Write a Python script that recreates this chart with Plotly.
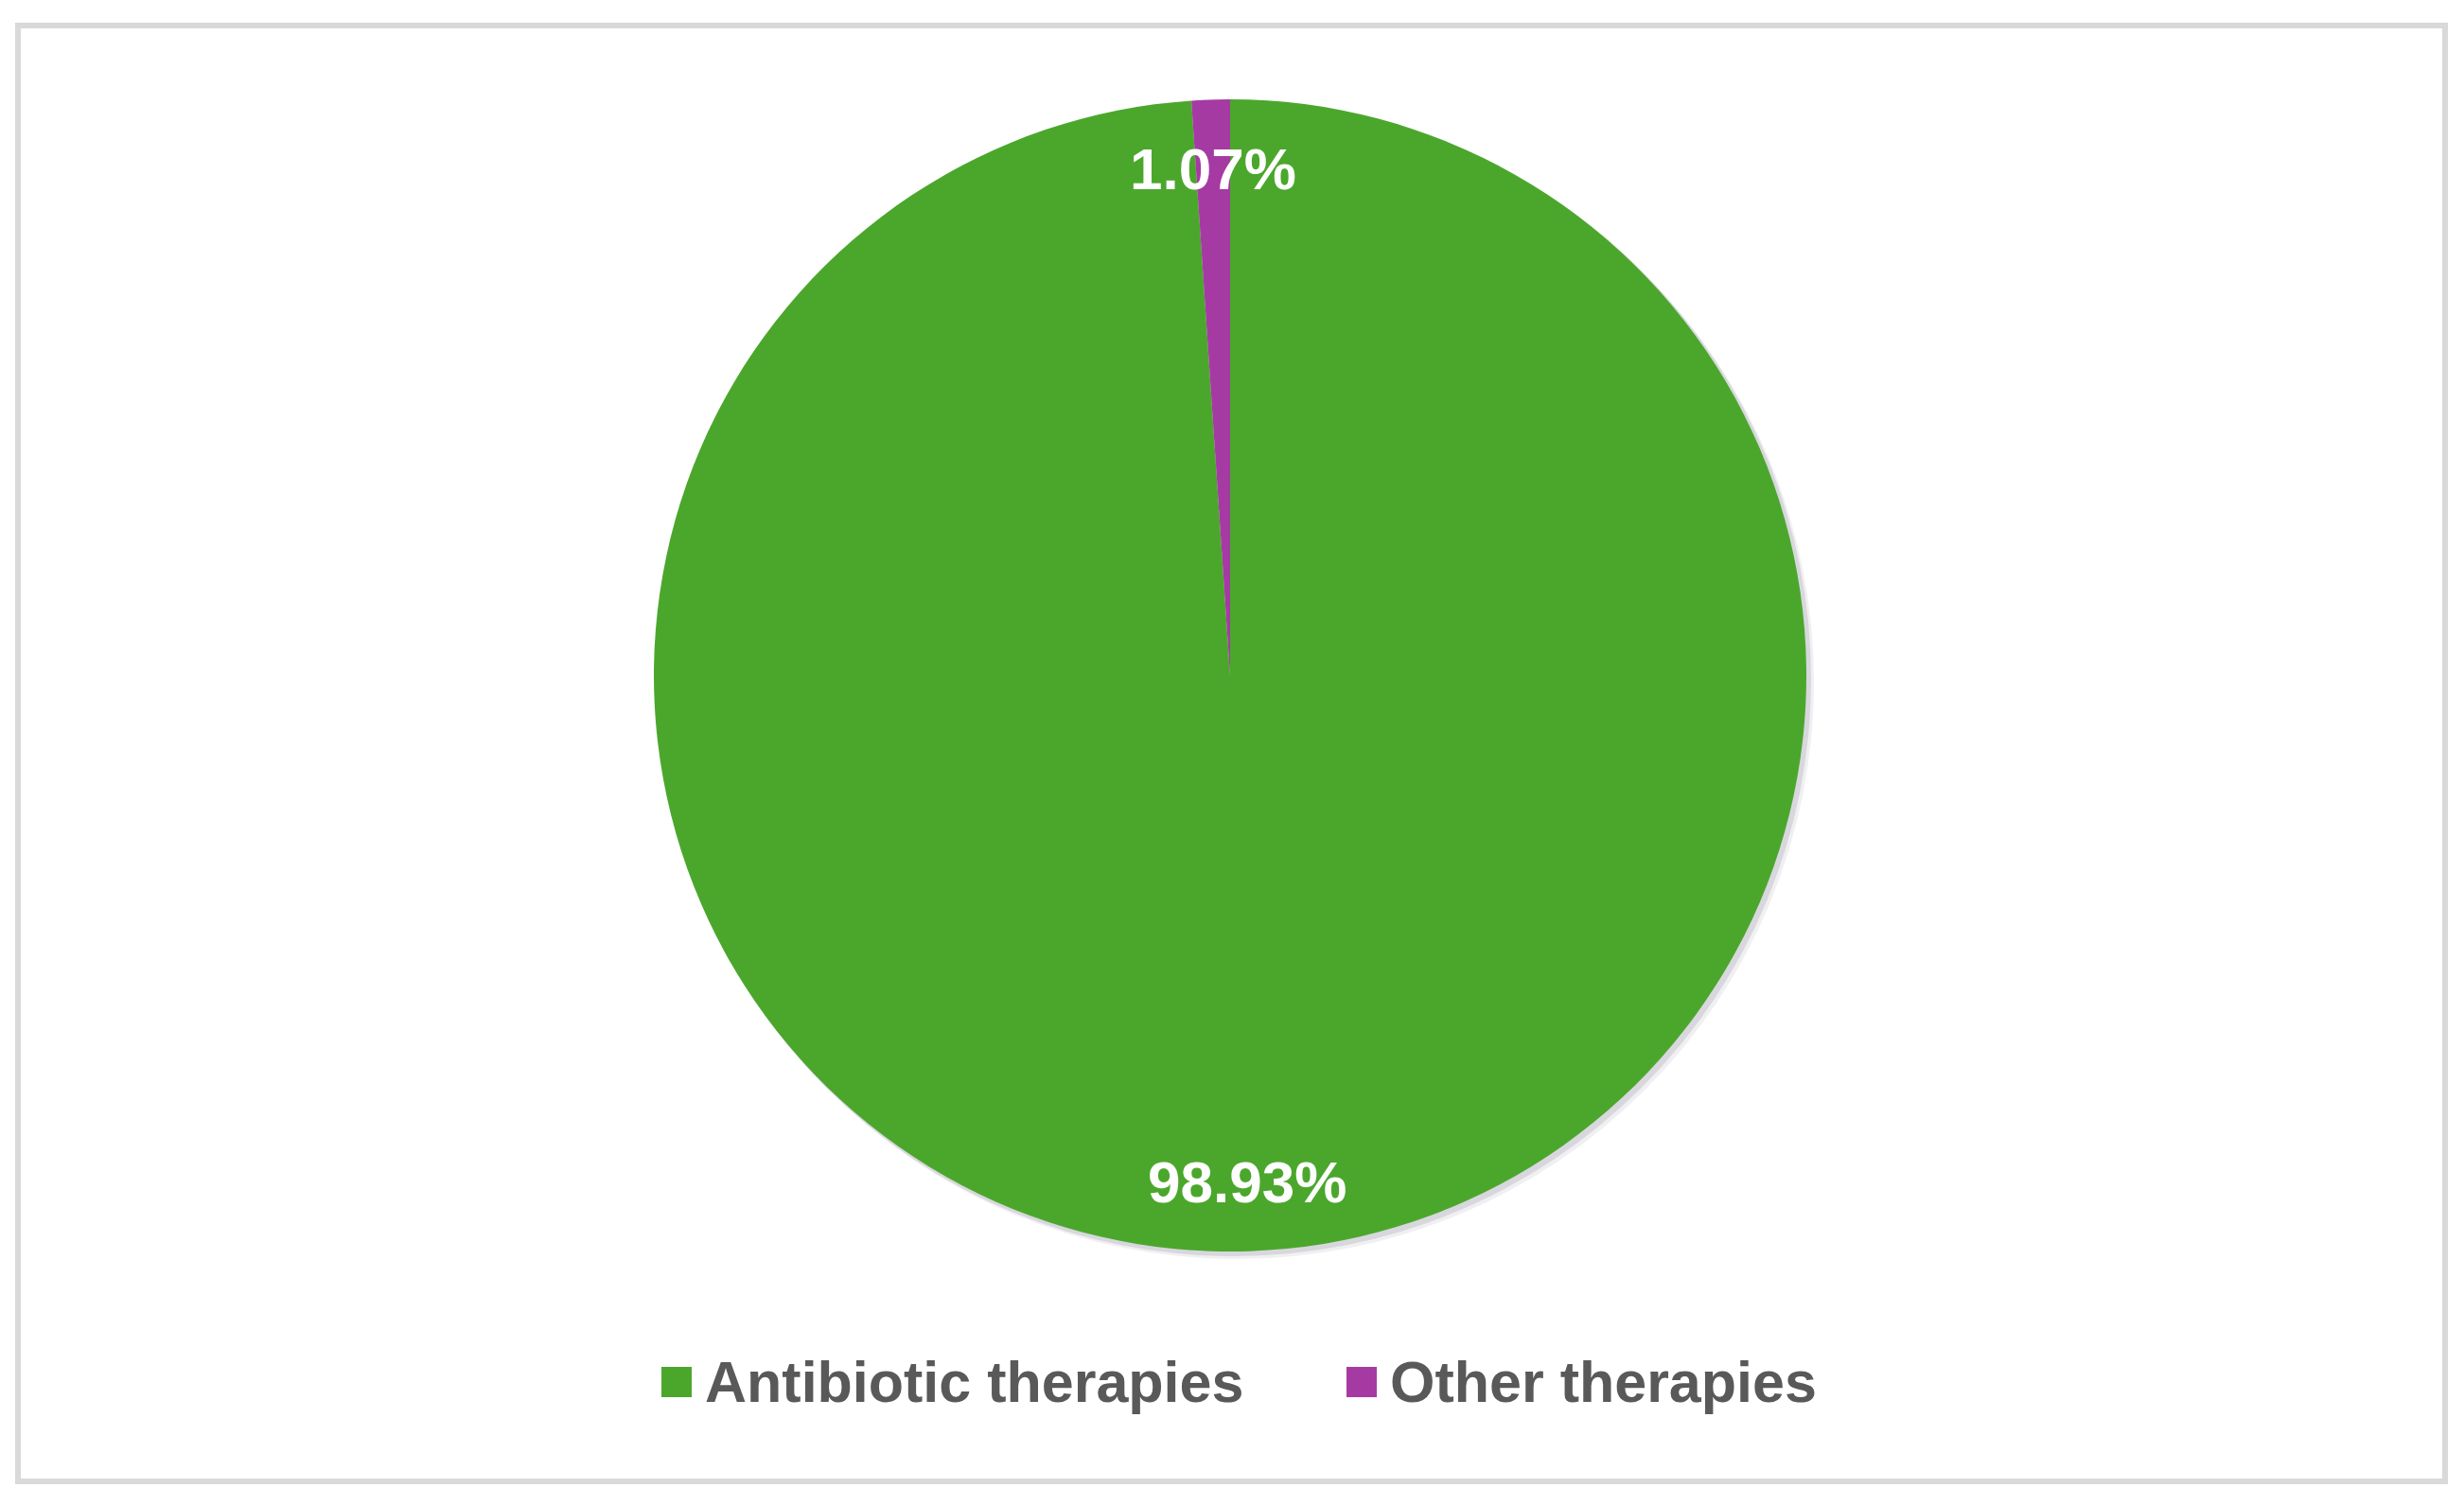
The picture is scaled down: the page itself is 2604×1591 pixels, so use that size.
import plotly.graph_objects as go
import math

# ---- data ----
categories = ["Antibiotic therapies", "Other therapies"]
values = [98.93, 1.07]
value_labels = ["98.93%", "1.07%"]
colors = ["#4ba72c", "#a63aa3"]

# the page body has an 8px margin; work in page pixels and convert
OFF = 8
W, H = 2604 - 2 * OFF, 1591 - 2 * OFF
cx, cy, R = 1300 - OFF, 714 - OFF, 609  # pie centre / radius in figure pixels


def px2x(p):
    return (p - OFF) / W if False else p / W


def py2y(p):
    return 1 - p / H


dom_x = [(cx - R) / W, (cx + R) / W]
dom_y = [1 - (cy + R) / H, 1 - (cy - R) / H]

fig = go.Figure()

# soft shadow behind the pie
for sh, a in [(7, 0.10), (4, 0.18)]:
    fig.add_trace(go.Pie(
        values=[1], labels=["shadow"], marker=dict(colors=[f"rgba(110,105,130,{a})"], line=dict(width=0)),
        domain=dict(x=[(cx - R + sh - 1) / W, (cx + R + sh + 1) / W],
                    y=[1 - (cy + R + sh + 1) / H, 1 - (cy - R + sh - 1) / H]),
        textinfo="none", hoverinfo="skip", showlegend=False, sort=False,
    ))

fig.add_trace(go.Pie(
    labels=categories, values=values, sort=False, direction="clockwise", rotation=0,
    marker=dict(colors=colors, line=dict(width=0)),
    domain=dict(x=dom_x, y=dom_y),
    textinfo="none", hoverinfo="label+percent", showlegend=False,
))

# data labels at 0.88 R along each slice's mid angle
total = sum(values)
cum = 0.0
annotations = []
for v, lab in zip(values, value_labels):
    mid = (cum + v / 2) / total * 2 * math.pi
    cum += v
    px = cx + 0.88 * R * math.sin(mid)
    py = cy - 0.88 * R * math.cos(mid)
    annotations.append(dict(
        x=px / W, y=1 - py / H, xref="paper", yref="paper", text=lab, showarrow=False,
        font=dict(family="Liberation Sans", size=62, color="white", weight="bold"),
        xanchor="center", yanchor="middle",
    ))

# manual legend
legend_y = 1461 - OFF
sq = 32
legend_x = [699 - OFF, 1423 - OFF]
shapes = []
for xs, cat, col in zip(legend_x, categories, colors):
    shapes.append(dict(type="rect", xref="paper", yref="paper",
                       x0=xs / W, x1=(xs + sq) / W,
                       y0=1 - (legend_y + sq / 2) / H, y1=1 - (legend_y - sq / 2) / H,
                       fillcolor=col, line=dict(width=0)))
    annotations.append(dict(
        x=(xs + sq + 12) / W, y=1 - legend_y / H, xref="paper", yref="paper", text=cat,
        showarrow=False, xanchor="left", yanchor="middle",
        font=dict(family="Liberation Sans", size=61, color="#595959", weight="bold"),
    ))

# outer frame
shapes.append(dict(type="rect", xref="paper", yref="paper",
                   x0=(19 - OFF) / W, x1=(2584 - OFF) / W,
                   y0=1 - (1566 - OFF) / H, y1=1 - (27 - OFF) / H,
                   line=dict(color="#d9d9d9", width=6), fillcolor="rgba(0,0,0,0)", layer="below"))

fig.update_layout(
    width=W, height=H, margin=dict(l=0, r=0, t=0, b=0),
    paper_bgcolor="white", plot_bgcolor="white",
    annotations=annotations, shapes=shapes, showlegend=False,
)

fig.write_html("out.html")
